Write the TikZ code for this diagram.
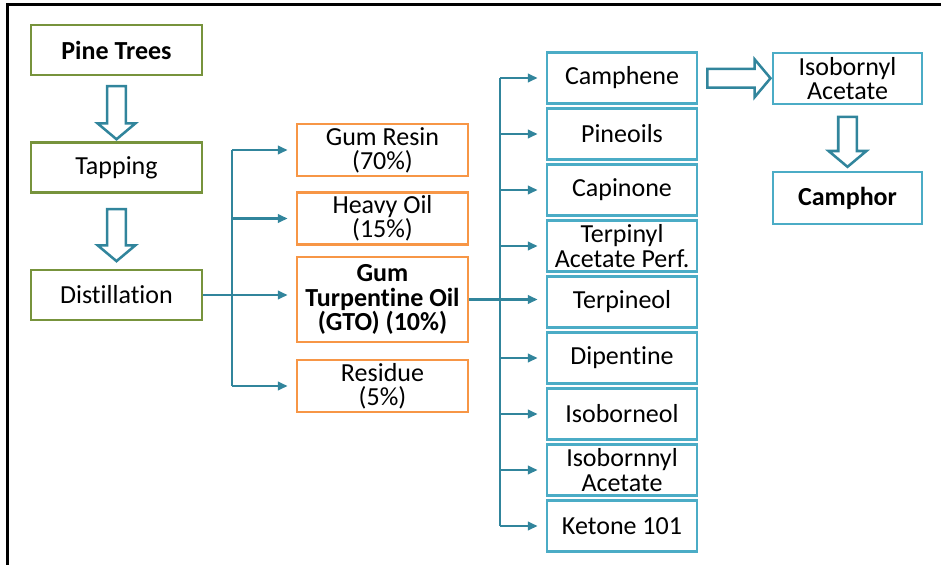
\documentclass[tikz,border=0pt]{standalone}
\usepackage{fontspec}
\setmainfont{Carlito}[Ligatures=NoCommon]
\definecolor{boxgreen}{RGB}{119, 147, 60}
\definecolor{boxorange}{RGB}{247, 150, 70}
\definecolor{boxblue}{RGB}{75, 172, 198}
\definecolor{linkblue}{RGB}{49, 133, 156}
\usetikzlibrary{shapes.arrows, arrows.meta, positioning, calc}
\tikzset{
    procbox/.style={
        rectangle,
        draw,
        line width=2pt,
        minimum width=4.275cm,
        minimum height=1.25cm,
        inner sep=1pt,
        align=center,
        font=\fontsize{18.5}{17.2}\selectfont
    },
    prodbox/.style={
        procbox,
        draw=boxblue,
        minimum width=3.75cm,
        minimum height=1.27cm
    },
    blockarrow/.style={
        single arrow,
        draw=linkblue,
        fill=white,
        line width=1.8pt,
        inner xsep=0pt,
        inner ysep=0.2cm,
        single arrow head extend=0.24cm,
        single arrow tip angle=100
    },
    flowline/.style={line width=1.8pt, color=linkblue},
    flowarrow/.style={flowline, -{Triangle[length=2.4mm, width=2.1mm]}, shorten >=0.2cm}
}
\begin{document}
\begin{tikzpicture}[x=0.025cm, y=-0.025cm]
      \useasboundingbox (0,0) rectangle (941,565);
      \draw[line width=0.075cm] (7.5,565) -- (7.5,4.5) -- (941,4.5);

      % process chain
      \node[procbox, draw=boxgreen] (pine) at (116.5,50) {\textbf{Pine Trees}};
      \node[procbox, draw=boxgreen] (tap) at (116.5,167.5) {Tapping};
      \node[procbox, draw=boxgreen] (dist) at (116.5,295) {Distillation};
      \node[blockarrow, minimum height=1.33cm, rotate=-90] (a1) at ($(pine.south)!0.5!(tap.north)$) {};
      \node[blockarrow, minimum height=1.3cm, rotate=-90] (a2) at ($(tap.south)!0.5!(dist.north)$) {};

      % fractions
      \node[procbox, draw=boxorange, minimum height=1.3cm] (resin) at (382.5,150) {Gum Resin\\(70\%)};
      \node[procbox, draw=boxorange, minimum height=1.3cm] (heavy) at (382.5,218.5) {Heavy Oil\\(15\%)};
      \node[procbox, draw=boxorange, minimum height=2.125cm] (gto) at (382.5,299.5) {\textbf{Gum}\\\textbf{Turpentine Oil}\\\textbf{(GTO) (10\%)}};
      \node[procbox, draw=boxorange, minimum height=1.3cm] (resid) at (382.5,386) {Residue\\(5\%)};

      % products
      \node[prodbox] (camph) at (622,78) {Camphene};
      \node[prodbox] (pineoil) at (622,134) {Pineoils};
      \node[prodbox] (capin) at (622,190) {Capinone};
      \node[prodbox] (terpyl) at (622,246) {Terpinyl\\Acetate Perf.};
      \node[prodbox] (terpin) at (622,302) {Terpineol};
      \node[prodbox] (dipent) at (622,358) {Dipentine};
      \node[prodbox] (isobol) at (622,414) {Isoborneol};
      \node[prodbox] (isobac) at (622,470) {Isobornnyl\\Acetate};
      \node[prodbox] (keton) at (622,526) {Ketone 101};

      \node[prodbox, minimum width=3.725cm] (isoac) at (847.5,78.5) {Isobornyl\\Acetate};
      \node[prodbox, minimum width=3.725cm, minimum height=1.3cm] (camphor) at (847.5,198) {\textbf{Camphor}};
      \node[blockarrow, minimum height=1.58cm] (a3) at ($(camph.east)!0.5!(isoac.west)$) {};
      \node[blockarrow, minimum height=1.25cm, rotate=-90] (a4) at ($(isoac.south)!0.5!(camphor.north)$) {};

      % branches
      \coordinate (lt) at (232,295);
      \coordinate (rt) at (500,300);
      \draw[flowline] (lt |- resin) -- (lt |- resid);
      \draw[flowarrow] (dist.east) -- (dist.east -| gto.west);
      \draw[flowarrow] (lt |- resin) -- (resin);
      \draw[flowarrow] (lt |- heavy) -- (heavy);
      \draw[flowarrow] (lt |- resid) -- (resid);

      \draw[flowline] (rt |- camph) -- (rt |- keton);
      \draw[flowarrow] (gto.east) -- (gto.east -| terpin.west);
      \draw[flowarrow] (rt |- camph) -- (camph);
      \draw[flowarrow] (rt |- pineoil) -- (pineoil);
      \draw[flowarrow] (rt |- capin) -- (capin);
      \draw[flowarrow] (rt |- terpyl) -- (terpyl);
      \draw[flowarrow] (rt |- dipent) -- (dipent);
      \draw[flowarrow] (rt |- isobol) -- (isobol);
      \draw[flowarrow] (rt |- isobac) -- (isobac);
      \draw[flowarrow] (rt |- keton) -- (keton);
\end{tikzpicture}
\end{document}
